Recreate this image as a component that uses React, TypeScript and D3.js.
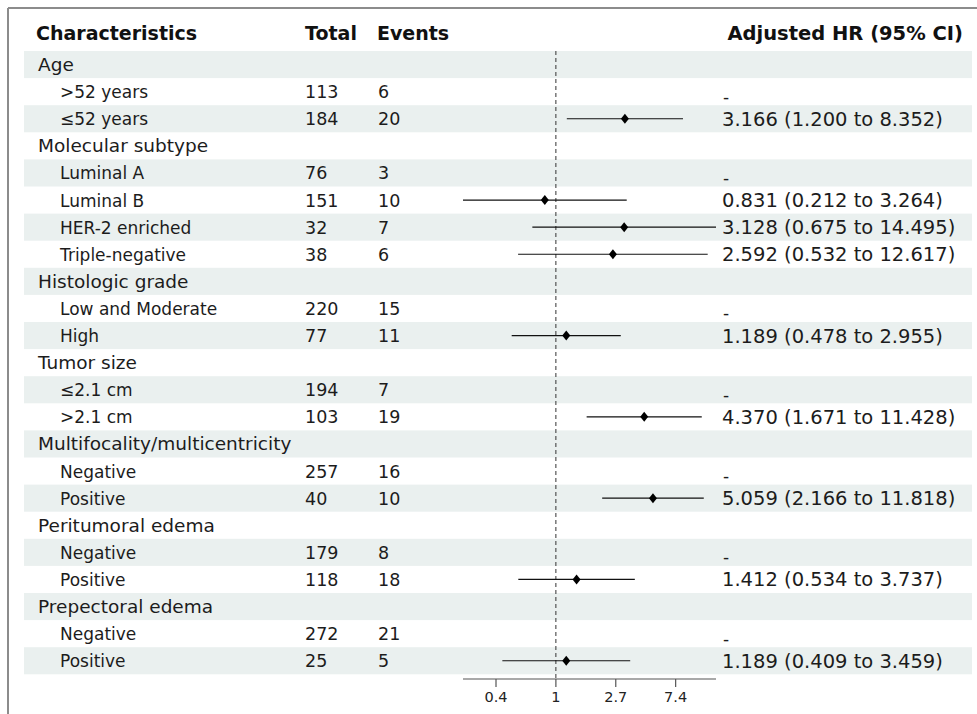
import React from "react";
import * as d3 from "d3";

const labels = [
  "Age", ">52 years", "≤52 years",
  "Molecular subtype", "Luminal A", "Luminal B", "HER-2 enriched", "Triple-negative",
  "Histologic grade", "Low and Moderate", "High",
  "Tumor size", "≤2.1 cm", ">2.1 cm",
  "Multifocality/multicentricity", "Negative", "Positive",
  "Peritumoral edema", "Negative", "Positive",
  "Prepectoral edema", "Negative", "Positive",
];
const isGroup = [
  true, false, false,
  true, false, false, false, false,
  true, false, false,
  true, false, false,
  true, false, false,
  true, false, false,
  true, false, false,
];
const totals: (number | null)[] = [null, 113, 184, null, 76, 151, 32, 38, null, 220, 77, null, 194, 103, null, 257, 40, null, 179, 118, null, 272, 25];
const events: (number | null)[] = [null, 6, 20, null, 3, 10, 7, 6, null, 15, 11, null, 7, 19, null, 16, 10, null, 8, 18, null, 21, 5];
const hr: (number | null)[] = [null, null, 3.166, null, null, 0.831, 3.128, 2.592, null, null, 1.189, null, null, 4.37, null, null, 5.059, null, null, 1.412, null, null, 1.189];
const lower: (number | null)[] = [null, null, 1.2, null, null, 0.212, 0.675, 0.532, null, null, 0.478, null, null, 1.671, null, null, 2.166, null, null, 0.534, null, null, 0.409];
const upper: (number | null)[] = [null, null, 8.352, null, null, 3.264, 14.495, 12.617, null, null, 2.955, null, null, 11.428, null, null, 11.818, null, null, 3.737, null, null, 3.459];
const isRef = [false, true, false, false, true, false, false, false, false, true, false, false, true, false, false, true, false, false, true, false, false, true, false];
const tickPowers = [-1, 0, 1, 2];
const tickLabels = ["0.4", "1", "2.7", "7.4"];
const headers = ["Characteristics", "Total", "Events", "Adjusted HR (95% CI)"];

const W = 977;
const H = 714;
const FONT = "DejaVu Sans, Verdana, sans-serif";

export default function App() {
  const rowTop = 51;
  const rowH = 27.1;
  const x = d3.scaleLog().domain([0.212, 14.495]).range([463, 716]);
  const yc = (i: number) => rowTop + rowH * i + rowH / 2;
  const axisY = 679;
  const fmt = d3.format(".3f");
  const textColor = "#1c1c1c";

  return (
    <svg width={W} height={H} style={{ position: "absolute", left: 0, top: 0, background: "#fff" }} fontFamily={FONT}>
      <rect x={0} y={0} width={W} height={H} fill="#fff" />
      <line x1={8} y1={8} x2={W} y2={8} stroke="#8c8c8c" strokeWidth={2} />
      <line x1={8} y1={8} x2={8} y2={H} stroke="#8c8c8c" strokeWidth={2} />
      {labels.map((_, i) =>
        i % 2 === 0 ? (
          <rect key={"s" + i} x={24} y={rowTop + rowH * i} width={948} height={rowH} fill="#eaf0ef" />
        ) : null
      )}
      <text x={36} y={40} fontSize={19} fontWeight="bold" fill="#111">{headers[0]}</text>
      <text x={305} y={40} fontSize={19} fontWeight="bold" fill="#111">{headers[1]}</text>
      <text x={377} y={40} fontSize={19} fontWeight="bold" fill="#111">{headers[2]}</text>
      <text x={963} y={40} fontSize={19.5} fontWeight="bold" fill="#111" textAnchor="end">{headers[3]}</text>
      <line x1={x(1)} y1={rowTop} x2={x(1)} y2={axisY} stroke="#333" strokeWidth={1} strokeDasharray="4,3" />
      {labels.map((lab, i) => (
        <g key={"r" + i}>
          <text x={isGroup[i] ? 38 : 60} y={yc(i) + 6.5} fontSize={isGroup[i] ? 18.5 : 17} fill={textColor}>{lab}</text>
          {totals[i] !== null && (
            <text x={305} y={yc(i) + 6.5} fontSize={17.5} fill={textColor}>{totals[i]}</text>
          )}
          {events[i] !== null && (
            <text x={378} y={yc(i) + 6.5} fontSize={17.5} fill={textColor}>{events[i]}</text>
          )}
          {isRef[i] && (
            <text x={723} y={yc(i) + 11} fontSize={17} fill={textColor}>-</text>
          )}
          {hr[i] !== null && (
            <>
              <line x1={x(lower[i] as number)} x2={x(upper[i] as number)} y1={yc(i)} y2={yc(i)} stroke="#111" strokeWidth={1.2} />
              <path
                d={`M${x(hr[i] as number)},${yc(i) - 5} L${x(hr[i] as number) + 4},${yc(i)} L${x(hr[i] as number)},${yc(i) + 5} L${x(hr[i] as number) - 4},${yc(i)} Z`}
                fill="#000"
              />
              <text x={722} y={yc(i) + 7} fontSize={19.5} fill={textColor}>
                {`${fmt(hr[i] as number)} (${fmt(lower[i] as number)} to ${fmt(upper[i] as number)})`}
              </text>
            </>
          )}
        </g>
      ))}
      <line x1={x.range()[0]} x2={x.range()[1]} y1={axisY} y2={axisY} stroke="#555" strokeWidth={1.2} />
      {tickPowers.map((p, k) => (
        <g key={"t" + k}>
          <line x1={x(Math.exp(p))} x2={x(Math.exp(p))} y1={axisY} y2={axisY + 8} stroke="#555" strokeWidth={1.2} />
          <text x={x(Math.exp(p))} y={axisY + 23} fontSize={14.5} textAnchor="middle" fill="#222">{tickLabels[k]}</text>
        </g>
      ))}
    </svg>
  );
}
